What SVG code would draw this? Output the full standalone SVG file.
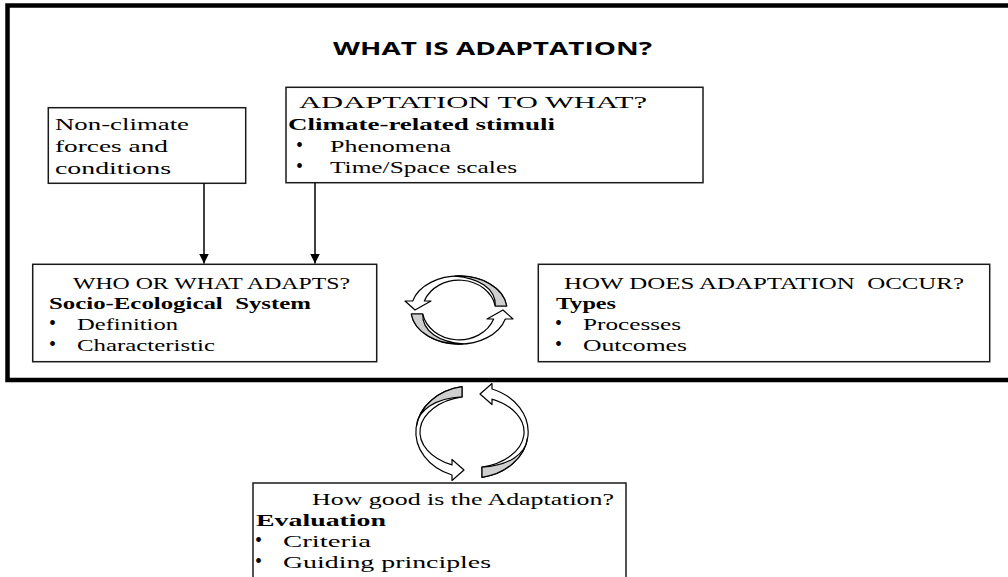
<svg xmlns="http://www.w3.org/2000/svg" width="1008" height="577" viewBox="0 0 1008 577">
  <style>
    .frame { fill: none; stroke: #000; stroke-width: 4.5; }
    .box { fill: #fff; stroke: #1a1a1a; stroke-width: 1.5; }
    .t { font-family: "Liberation Serif", "Times New Roman", serif; font-size: 17.5px; fill: #000; }
    .b { font-weight: bold; }
    .dot { font-family: "Liberation Serif", "Times New Roman", serif; font-size: 20px; fill: #000; }
    .title { font-family: "Open Sans", "DejaVu Sans", sans-serif; font-weight: 700; font-size: 18px; fill: #000; }
    .conn { stroke: #000; stroke-width: 1.5; fill: none; }
    .band { fill: #fff; stroke: #000; stroke-width: 1.2; stroke-linejoin: round; }
    .shade { fill: #cfcfcf; stroke: #000; stroke-width: 1.2; stroke-linejoin: round; }
  </style>
  <defs>
    <marker id="arrowhead" markerUnits="userSpaceOnUse" markerWidth="12" markerHeight="10" refX="10" refY="5" orient="auto">
      <path d="M0,0 L10,5 L0,10 Z" fill="#000"/>
    </marker>
    <!-- one half of the upper cycle: ribbon from the flat end over the top to the arrowhead -->
    <g id="arcTop">
      <path class="band" d="M506.7,306 A48,34 0 0 0 412.7,301 L405,301 L415,310 L431,301 L424.3,301 A37,32 0 0 1 495.3,306 Z"/>
      <path class="shade" d="M506.7,306 A48,34 0 0 0 455,276.1 C478,278 496,288 495.3,306 Z"/>
    </g>
    <!-- one half of the lower cycle: ribbon from the flat end round the left to the arrowhead -->
    <g id="arcLow">
      <path class="band" d="M462,386.7 A56,46 0 0 0 452,475 L452,480.5 L464,470 L452,459.5 L452,464.9 A54,36 0 0 1 462,396.9 Z"/>
      <path class="shade" d="M462,386.7 A56,46 0 0 0 416.5,426 C418,410 436,398 462,396.9 Z"/>
    </g>
  </defs>

  <rect width="1008" height="577" fill="#fff"/>

  <!-- outer frame, open on the right -->
  <rect class="frame" x="7.5" y="5.5" width="1012" height="374.5"/>

  <text class="title" x="333" y="55" textLength="319" lengthAdjust="spacingAndGlyphs">WHAT IS ADAPTATION?</text>

  <g id="node-nonclimate">
    <rect class="box" x="48.3" y="107.7" width="197.4" height="75.6"/>
    <text class="t" x="55" y="130" textLength="134" lengthAdjust="spacingAndGlyphs">Non-climate</text>
    <text class="t" x="55" y="152" textLength="113" lengthAdjust="spacingAndGlyphs">forces and</text>
    <text class="t" x="55" y="174" textLength="116" lengthAdjust="spacingAndGlyphs">conditions</text>
  </g>

  <g id="node-stimuli">
    <rect class="box" x="286" y="87.3" width="417" height="95.4"/>
    <text class="t" x="299" y="108" textLength="348" lengthAdjust="spacingAndGlyphs">ADAPTATION TO WHAT?</text>
    <text class="t b" x="288" y="130" textLength="267" lengthAdjust="spacingAndGlyphs">Climate-related stimuli</text>
    <text class="dot" x="296" y="152">•</text>
    <text class="t" x="330" y="152" textLength="121" lengthAdjust="spacingAndGlyphs">Phenomena</text>
    <text class="dot" x="296" y="173">•</text>
    <text class="t" x="330" y="173" textLength="187" lengthAdjust="spacingAndGlyphs">Time/Space scales</text>
  </g>

  <g id="node-who">
    <rect class="box" x="32.7" y="264.3" width="344" height="97.4"/>
    <text class="t" x="73" y="289" textLength="277" lengthAdjust="spacingAndGlyphs">WHO OR WHAT ADAPTS?</text>
    <text class="t b" x="49" y="309" textLength="262" lengthAdjust="spacingAndGlyphs" style="white-space:pre">Socio-Ecological  System</text>
    <text class="dot" x="49" y="330">•</text>
    <text class="t" x="77" y="330" textLength="101" lengthAdjust="spacingAndGlyphs">Definition</text>
    <text class="dot" x="49" y="351">•</text>
    <text class="t" x="77" y="351" textLength="138" lengthAdjust="spacingAndGlyphs">Characteristic</text>
  </g>

  <g id="node-how">
    <rect class="box" x="538.3" y="264.3" width="451.4" height="97.4"/>
    <text class="t" x="564" y="289" textLength="400" lengthAdjust="spacingAndGlyphs" style="white-space:pre">HOW DOES ADAPTATION  OCCUR?</text>
    <text class="t b" x="556" y="309" textLength="60" lengthAdjust="spacingAndGlyphs">Types</text>
    <text class="dot" x="555" y="330">•</text>
    <text class="t" x="583" y="330" textLength="98" lengthAdjust="spacingAndGlyphs">Processes</text>
    <text class="dot" x="555" y="351">•</text>
    <text class="t" x="583" y="351" textLength="104" lengthAdjust="spacingAndGlyphs">Outcomes</text>
  </g>

  <g id="node-evaluation">
    <rect class="box" x="253" y="483" width="373" height="120"/>
    <text class="t" x="312" y="505" textLength="302" lengthAdjust="spacingAndGlyphs">How good is the Adaptation?</text>
    <text class="t b" x="256" y="526" textLength="130" lengthAdjust="spacingAndGlyphs">Evaluation</text>
    <text class="dot" x="255" y="547">•</text>
    <text class="t" x="283" y="547" textLength="88" lengthAdjust="spacingAndGlyphs">Criteria</text>
    <text class="dot" x="255" y="568">•</text>
    <text class="t" x="283" y="568" textLength="208" lengthAdjust="spacingAndGlyphs">Guiding principles</text>
  </g>

  <g id="connectors">
    <line class="conn" x1="204" y1="183.3" x2="204" y2="263.5" marker-end="url(#arrowhead)"/>
    <line class="conn" x1="315" y1="182.7" x2="315" y2="263.5" marker-end="url(#arrowhead)"/>
    <!-- cycle between the two middle boxes -->
    <g id="cycle-upper">
      <use href="#arcTop"/>
      <use href="#arcTop" transform="rotate(180 459 310)"/>
    </g>
    <!-- cycle leading down to the evaluation box -->
    <g id="cycle-lower">
      <use href="#arcLow"/>
      <use href="#arcLow" transform="rotate(180 472 432)"/>
    </g>
  </g>
</svg>
